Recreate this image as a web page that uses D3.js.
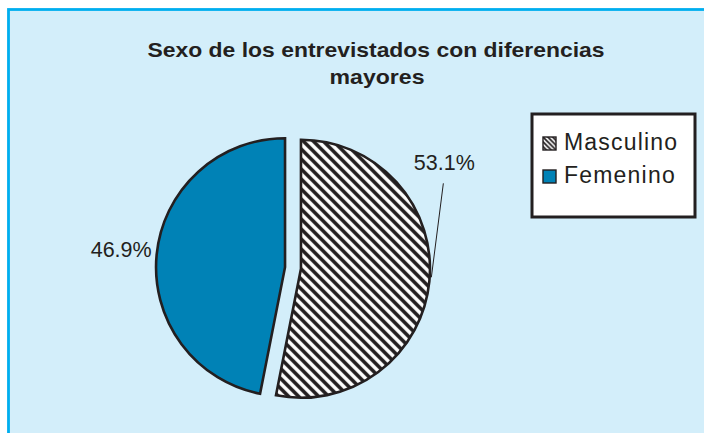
<!DOCTYPE html>
<html>
    <head>
        <meta charset="utf-8">
        <title>Sexo de los entrevistados</title>
        <script src="https://cdn.jsdelivr.net/npm/d3@7"></script>
        <style>
            body { margin: 0; background: #fff; }
        </style>
    </head>
    <body>
        <svg id='mainsvg' width='704' height='433' style="display:block;"></svg>
        <script>
            // data
            const categories = ["Masculino", "Femenino"];
            const values = [53.1, 46.9];
            const labels = ["53.1%", "46.9%"];
            const titleLines = ["Sexo de los entrevistados con diferencias", "mayores"];

            const W = 704, H = 433;
            const cx = 293, cy = 268, R = 129, explode = 8;
            const ink = "#231f20";
            const blue = "#0082b6";

            const svg = d3.select('#mainsvg');

            // patterns for the hatched slice
            const defs = svg.append("defs");
            function hatch(id, size, sw){
                const p = defs.append("pattern")
                    .attr("id", id)
                    .attr("patternUnits", "userSpaceOnUse")
                    .attr("width", size).attr("height", size);
                p.append("rect").attr("width", size).attr("height", size).attr("fill", "#fff");
                p.append("path")
                    .attr("d", `M0,0L${size},${size}M${-size/2},${size/2}L${size/2},${size*1.5}M${size/2},${-size/2}L${size*1.5},${size/2}`)
                    .attr("stroke", ink)
                    .attr("stroke-width", sw);
            }
            hatch("hatchBig", 10, 3.6);
            hatch("hatchSmall", 4.8, 1.8);

            const color = d3.scaleOrdinal(categories, ["url(#hatchBig)", blue]);
            const legendFill = d3.scaleOrdinal(categories, ["url(#hatchSmall)", blue]);

            // frame
            svg.append("rect")
                .attr("x", 8.5).attr("y", 9.5)
                .attr("width", W).attr("height", H)
                .attr("fill", "#d3eefa")
                .attr("stroke", "#00aeef")
                .attr("stroke-width", 2.8);

            // title
            const title = svg.append("g")
                .attr("font-family", "'Liberation Sans', Arial, sans-serif")
                .attr("font-weight", "bold")
                .attr("font-size", 21)
                .attr("fill", ink)
                .attr("text-anchor", "middle");
            title.append("text").attr("x", 376).attr("y", 57)
                .attr("textLength", 457).attr("lengthAdjust", "spacingAndGlyphs")
                .text(titleLines[0]);
            title.append("text").attr("x", 377).attr("y", 84)
                .attr("textLength", 95).attr("lengthAdjust", "spacingAndGlyphs")
                .text(titleLines[1]);

            // pie
            const arcs = d3.pie().sort(null).value(d => d)(values);
            const arc = d3.arc().innerRadius(0).outerRadius(R);

            const shift = d => {
                const a = (d.startAngle + d.endAngle) / 2;
                return [explode * Math.sin(a), -explode * Math.cos(a)];
            };

            const slices = svg.append("g")
                .attr("transform", `translate(${cx},${cy})`)
                .selectAll("g")
                .data(arcs)
                .join("g")
                .attr("transform", d => `translate(${shift(d)})`);

            slices.append("path")
                .attr("d", arc)
                .attr("fill", (d, i) => color(categories[i]))
                .attr("stroke", ink)
                .attr("stroke-width", 2.6)
                .attr("stroke-linejoin", "miter");

            // labels
            const lab = svg.append("g")
                .attr("transform", `translate(${cx},${cy})`)
                .attr("font-family", "'Liberation Sans', Arial, sans-serif")
                .attr("font-size", 21.5)
                .attr("fill", ink);

            arcs.forEach((d, i) => {
                const a = (d.startAngle + d.endAngle) / 2;
                const [sx, sy] = shift(d);
                const px = sx + R * Math.sin(a), py = sy - R * Math.cos(a);
                if (i === 0) {
                    // leader line up to the label
                    const lx = px + 14, ly = py - 98;
                    lab.append("line")
                        .attr("x1", px + 2).attr("y1", py - 4)
                        .attr("x2", lx).attr("y2", ly)
                        .attr("stroke", ink).attr("stroke-width", 1);
                    lab.append("text")
                        .attr("x", lx + 1).attr("y", ly - 13)
                        .attr("text-anchor", "middle")
                        .text(labels[i]);
                } else {
                    lab.append("text")
                        .attr("x", px - 5).attr("y", py + 2)
                        .attr("text-anchor", "end")
                        .text(labels[i]);
                }
            });

            // legend
            const legend = svg.append("g").attr("transform", "translate(532,114)");
            legend.append("rect")
                .attr("width", 163).attr("height", 103)
                .attr("fill", "#fff")
                .attr("stroke", ink)
                .attr("stroke-width", 3);
            const item = legend.selectAll("g.item")
                .data(categories)
                .join("g")
                .attr("class", "item")
                .attr("transform", (d, i) => `translate(11,${23 + i * 33})`);
            item.append("rect")
                .attr("width", 13).attr("height", 13)
                .attr("fill", d => legendFill(d))
                .attr("stroke", ink)
                .attr("stroke-width", 1.4);
            item.append("text")
                .attr("x", 21).attr("y", 13)
                .attr("font-family", "'Liberation Sans', Arial, sans-serif")
                .attr("font-size", 23)
                .attr("letter-spacing", 1.2)
                .attr("fill", ink)
                .text(d => d);
        </script>
    </body>
</html>
